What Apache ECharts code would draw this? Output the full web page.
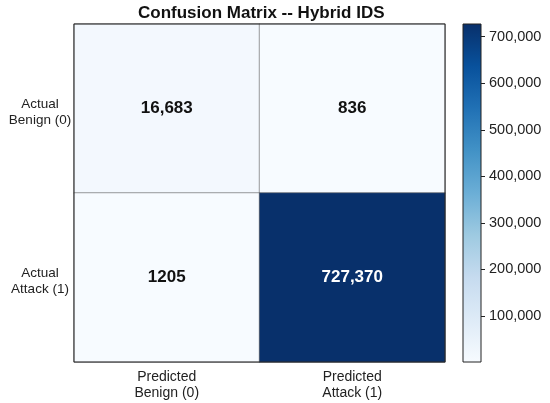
<!DOCTYPE html>
<html>
<head>
<meta charset="utf-8">
<script src="https://cdn.jsdelivr.net/npm/echarts@6/dist/echarts.min.js"></script>
<style>
html,body{margin:0;padding:0;background:#fff;}
#main{width:550px;height:403px;}
</style>
</head>
<body>
<div id="main"></div>
<script>
// confusion matrix data
var predLabels = ['Predicted\nBenign (0)', 'Predicted\nAttack (1)'];
var actualLabels = ['Actual\nBenign (0)', 'Actual\nAttack (1)'];
var rowBenign = [16683, 836];
var rowAttack = [1205, 727370];
var cbTicks = [100000, 200000, 300000, 400000, 500000, 600000, 700000];
// matplotlib Blues
var blues = ['#f7fbff','#deebf7','#c6dbef','#9ecae1','#6baed6','#4292c6','#2171b5','#08519c','#08306b'];

var font = '"Liberation Sans", Arial, sans-serif';
var rows = [rowBenign, rowAttack];
var all = rowBenign.concat(rowAttack);
var vmin = Math.min.apply(null, all);
var vmax = Math.max.apply(null, all);

var data = [];
rows.forEach(function(r, i){
    r.forEach(function(v, j){
        data.push({
            value: [j, i, v],
            label: {color: v > (vmin + vmax) / 2 ? '#fff' : '#111'}
        });
    });
});

function fmt(v){
    if (v < 10000) return String(v);
    return v.toLocaleString('en-US');
}

var stops = blues.map(function(c, i){
    return {offset: 1 - i / (blues.length - 1), color: c};
});

var myChart = echarts.init(document.getElementById('main'));
var option = {
    animation: false,
    textStyle: {fontFamily: font},
    title: {
        text: 'Confusion Matrix -- Hybrid IDS',
        left: 133, top: 0,
        textStyle: {fontSize: 17, fontWeight: 'bold', color: '#111', fontFamily: font}
    },
    grid: [
        {left: 74, top: 24, width: 371, height: 338, show: true, z: 5,
         backgroundColor: 'transparent', borderColor: '#222', borderWidth: 1},
        {left: 463, top: 24, width: 18, height: 338, show: true, z: 5,
         backgroundColor: 'transparent', borderColor: '#222', borderWidth: 1}
    ],
    xAxis: [
        {type: 'category', data: predLabels, gridIndex: 0,
         axisLine: {show: false}, axisTick: {show: false}, splitArea: {show: false},
         axisLabel: {fontSize: 14, color: '#222', lineHeight: 16, margin: 7, fontFamily: font}},
        {type: 'category', data: ['cb'], gridIndex: 1, show: false}
    ],
    yAxis: [
        {type: 'category', data: actualLabels, gridIndex: 0, inverse: true,
         axisLine: {show: false}, axisTick: {show: false},
         axisLabel: {fontSize: 13.5, color: '#222', lineHeight: 16, margin: 34, align: 'center',
                     fontFamily: font,
                     // small spacer line pushes the two-line label down a little
                     formatter: function(v){ return '{s| }\n' + v; },
                     rich: {s: {fontSize: 4, lineHeight: 8}}}},
        {type: 'value', gridIndex: 1, position: 'right', min: vmin, max: vmax,
         splitLine: {show: false}, axisLine: {show: false},
         axisTick: {show: true, length: 4, lineStyle: {color: '#222'}, customValues: cbTicks},
         axisLabel: {fontSize: 14.5, color: '#222', margin: 8, customValues: cbTicks,
                     formatter: function(v){ return v.toLocaleString('en-US'); }, fontFamily: font}}
    ],
    visualMap: {
        show: false, type: 'continuous', seriesIndex: 0,
        min: vmin, max: vmax, inRange: {color: blues}
    },
    series: [
        {
            type: 'heatmap', xAxisIndex: 0, yAxisIndex: 0,
            data: data,
            itemStyle: {borderColor: '#666', borderWidth: 0.6},
            label: {
                show: true, fontSize: 17, fontWeight: 'bold', fontFamily: font,
                formatter: function(p){ return fmt(p.value[2]); }
            },
            emphasis: {disabled: true}
        },
        {
            type: 'bar', xAxisIndex: 1, yAxisIndex: 1,
            data: [vmax], barWidth: '100%', clip: true, silent: true,
            itemStyle: {color: new echarts.graphic.LinearGradient(0, 0, 0, 1, stops)}
        }
    ]
};
myChart.setOption(option);
</script>
</body>
</html>
